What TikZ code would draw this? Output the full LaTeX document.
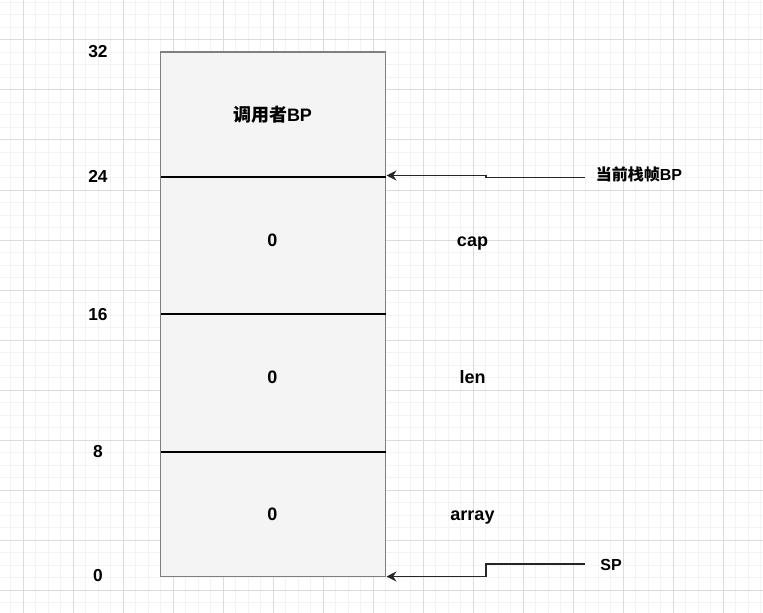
\documentclass[tikz,border=0pt]{standalone}
\usepackage{fontspec}
\setmainfont{Liberation Sans}
\newfontfamily\cjk{Noto Sans CJK SC}
\usetikzlibrary{arrows.meta}
\usepackage{xcolor}
\definecolor{minorline}{HTML}{F3F3F3}
\definecolor{majorline}{HTML}{DCDCDC}
\definecolor{slotfill}{HTML}{F4F4F4}
\definecolor{slotedge}{HTML}{7F7F7F}
\newcommand{\paper} {
    \foreach \k in {0,...,60}
        \draw[minorgrid] ({10.5+12.5*\k}, 0) -- ({10.5+12.5*\k}, 613);
    \foreach \k in {0,...,48}
        \draw[minorgrid] (0, {2.5+12.5*\k}) -- (763, {2.5+12.5*\k});
    \foreach \k in {0,...,14}
        \draw[majorgrid] ({23+50*\k}, 0) -- ({23+50*\k}, 613);
    \foreach \k in {0,...,11}
        \draw[majorgrid] (0, {40+50*\k}) -- (763, {40+50*\k});
}
\newcommand{\slot}[4] {
    \node[val] (v#1) at (272.5, {#2}) {#3};
    \node[val] (n#1) at (472.5, {#2}) {#4};
}
\tikzset{
    minorgrid/.style={draw=minorline, line width=0.75pt},
    majorgrid/.style={draw=majorline, line width=0.75pt},
    frame/.style={draw=slotedge, fill=slotfill, line width=1pt},
    divider/.style={draw=black, line width=1.1pt},
    addr/.style={anchor=base, inner sep=0pt, font=\bfseries\fontsize{13}{15}\selectfont},
    val/.style={anchor=base, inner sep=0pt, font=\bfseries\fontsize{13.5}{16}\selectfont},
    tag/.style={anchor=base, inner sep=0pt, font=\bfseries\fontsize{12}{14}\selectfont},
    ptr/.style={draw=black!85, line width=1.1pt, -{Stealth[length=7.5pt, width=7.5pt, inset=2.5pt]}}
}

\begin{document}
\begin{tikzpicture}[x=0.75pt, y=-0.75pt]
    \useasboundingbox (0, 0) rectangle (763, 613);
    \paper
    \draw[frame] (160.5, 52) rectangle (385.5, 576.5);
    \foreach \y in {177, 314, 452}
        \draw[divider] (160.5, \y) -- (385.5, \y);
    \foreach \a/\y in {32/57.5, 24/182.7, 16/320, 8/457.7, 0/581.5}
        \node[addr] (a\a) at (98, \y) {\a};
    \node[val] (caller) at (272.5, 121.7) {{\cjk 调用者}BP};
    \slot{cap}{246}{0}{cap}
    \slot{len}{383.5}{0}{len}
    \slot{arr}{520.5}{0}{array}
    \node[tag] (bp) at (639, 180.7) {{\cjk 当前栈帧}BP};
    \node[tag] (sp) at (611, 570.5) {SP};
    \coordinate (bptail) at (585, 177.5);
    \coordinate (bphead) at (386.5, 175.5);
    \coordinate (sptail) at (585, 564);
    \coordinate (sphead) at (386.5, 576.5);
    \draw[ptr] (bptail) -- ++(-99, 0) |- (bphead);
    \draw[ptr] (sptail) -- ++(-99, 0) |- (sphead);
\end{tikzpicture}
\end{document}
